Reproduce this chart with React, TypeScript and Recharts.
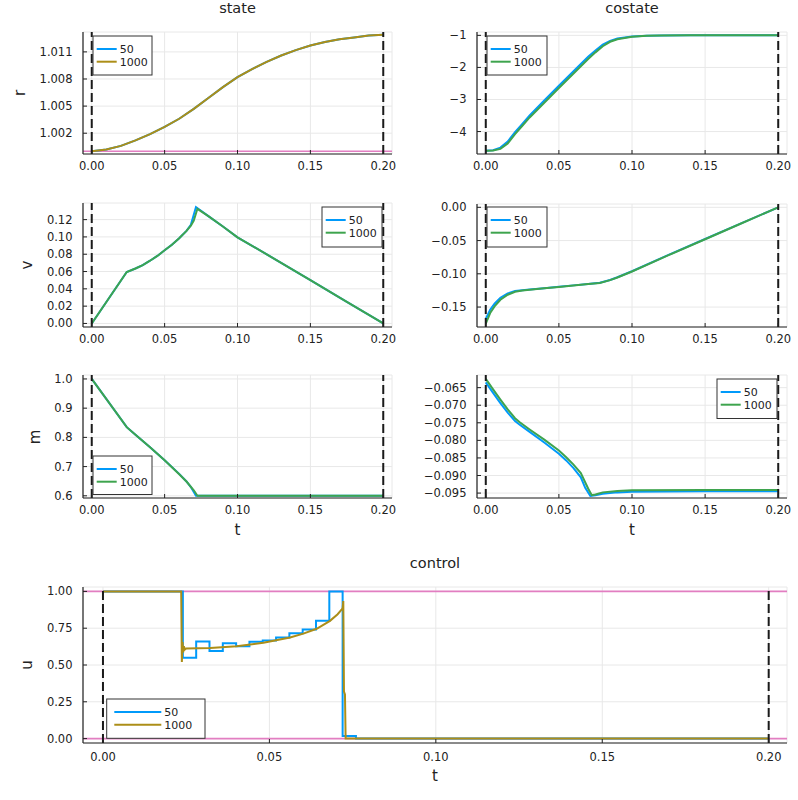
import React from "react";
import { CartesianGrid, Line, LineChart, ReferenceLine, XAxis, YAxis } from "recharts";

const BLUE = "#009AFA";
const GOLD = "#AC8E18";
const GREEN = "#3EA44E";
const PINK = "#E27EC1";
const FONT = "'DejaVu Sans', sans-serif";
const INK = "#222";

const timeTicks = [0, 0.05, 0.1, 0.15, 0.2];
const boundaryTimes = [0, 0.2];

// state r
const rTimes = [0, 0.01, 0.02, 0.03, 0.04, 0.05, 0.06, 0.07, 0.08, 0.09, 0.1, 0.11, 0.12, 0.13, 0.14, 0.15, 0.16, 0.17, 0.18, 0.19, 0.2];
const r50 = [1.0, 1.0002, 1.0006, 1.0012, 1.0019, 1.0027, 1.0036, 1.0047, 1.0059, 1.0071, 1.0082, 1.0091, 1.0099, 1.0106, 1.0112, 1.0117, 1.0121, 1.0124, 1.0126, 1.0128, 1.0129];
const r1000 = [1.0, 1.0002, 1.0006, 1.0012, 1.0019, 1.0027, 1.0036, 1.0047, 1.0059, 1.0071, 1.0082, 1.0091, 1.0099, 1.0106, 1.0112, 1.0117, 1.0121, 1.0124, 1.0126, 1.0128, 1.0129];
const rTicks = [1.002, 1.005, 1.008, 1.011];

// costate of r
const prTimes = [0, 0.005, 0.01, 0.015, 0.02, 0.025, 0.03, 0.04, 0.05, 0.06, 0.07, 0.075, 0.08, 0.085, 0.09, 0.1, 0.11, 0.12, 0.14, 0.2];
const pr50 = [-4.6, -4.58, -4.5, -4.31, -4.02, -3.76, -3.5, -3.03, -2.57, -2.12, -1.67, -1.47, -1.29, -1.17, -1.1, -1.035, -1.012, -1.004, -1.0, -1.0];
const pr1000 = [-4.6, -4.59, -4.54, -4.37, -4.08, -3.82, -3.56, -3.1, -2.64, -2.19, -1.74, -1.53, -1.34, -1.2, -1.12, -1.045, -1.015, -1.005, -1.0, -1.0];
const prTicks = [-4, -3, -2, -1];

// state v
const vTimes50 = [0, 0.024, 0.03, 0.035, 0.04, 0.045, 0.05, 0.055, 0.06, 0.065, 0.068, 0.0715, 0.08, 0.09, 0.1, 0.125, 0.15, 0.175, 0.2];
const v50 = [0, 0.0595, 0.0635, 0.0675, 0.0725, 0.078, 0.0845, 0.091, 0.0985, 0.107, 0.114, 0.1345, 0.124, 0.112, 0.0995, 0.075, 0.05, 0.025, 0];
const vTimes1000 = [0, 0.024, 0.03, 0.035, 0.04, 0.045, 0.05, 0.055, 0.06, 0.065, 0.068, 0.07, 0.0725, 0.08, 0.09, 0.1, 0.125, 0.15, 0.175, 0.2];
const v1000 = [0, 0.0595, 0.0635, 0.0675, 0.0725, 0.078, 0.0845, 0.091, 0.0985, 0.107, 0.113, 0.119, 0.1325, 0.124, 0.112, 0.0995, 0.075, 0.05, 0.025, 0];
const vTicks = [0, 0.02, 0.04, 0.06, 0.08, 0.1, 0.12];

// costate of v
const pvTimes = [0, 0.003, 0.006, 0.01, 0.015, 0.02, 0.025, 0.03, 0.04, 0.05, 0.06, 0.07, 0.078, 0.085, 0.09, 0.1, 0.125, 0.15, 0.175, 0.2];
const pv50 = [-0.168, -0.154, -0.145, -0.136, -0.1295, -0.126, -0.1247, -0.1237, -0.1216, -0.1195, -0.1174, -0.1153, -0.1134, -0.1093, -0.1052, -0.0962, -0.0716, -0.0477, -0.0238, 0];
const pv1000 = [-0.175, -0.159, -0.149, -0.139, -0.1315, -0.127, -0.1252, -0.124, -0.1218, -0.1197, -0.1176, -0.1155, -0.1137, -0.1095, -0.1055, -0.0965, -0.072, -0.048, -0.024, 0];
const pvTicks = [-0.15, -0.1, -0.05, 0];

// state m
const mTimes50 = [0, 0.024, 0.03, 0.04, 0.05, 0.06, 0.065, 0.068, 0.0715, 0.1, 0.2];
const m50 = [1.0, 0.835, 0.809, 0.766, 0.722, 0.675, 0.649, 0.63, 0.6, 0.6, 0.6];
const mTimes1000 = [0, 0.024, 0.03, 0.04, 0.05, 0.06, 0.065, 0.07, 0.0725, 0.1, 0.15, 0.2];
const m1000 = [1.0, 0.835, 0.809, 0.766, 0.722, 0.674, 0.649, 0.619, 0.6, 0.6, 0.6, 0.6];
const mTicks = [0.6, 0.7, 0.8, 0.9, 1.0];

// costate of m
const pmTimes50 = [0, 0.005, 0.01, 0.015, 0.02, 0.023, 0.03, 0.04, 0.05, 0.055, 0.06, 0.065, 0.068, 0.0715, 0.075, 0.08, 0.09, 0.1, 0.15, 0.2];
const pm50 = [-0.0635, -0.0665, -0.0694, -0.0721, -0.0745, -0.0755, -0.0776, -0.0806, -0.0838, -0.0857, -0.0879, -0.0905, -0.0935, -0.0958, -0.0956, -0.0952, -0.0948, -0.0946, -0.0945, -0.0945];
const pmTimes1000 = [0, 0.005, 0.01, 0.015, 0.02, 0.023, 0.03, 0.04, 0.05, 0.055, 0.06, 0.065, 0.07, 0.0725, 0.075, 0.08, 0.09, 0.1, 0.15, 0.2];
const pm1000 = [-0.0625, -0.0655, -0.0684, -0.0712, -0.0737, -0.0748, -0.0769, -0.0798, -0.0829, -0.0848, -0.0869, -0.0893, -0.0937, -0.0956, -0.0954, -0.0948, -0.0944, -0.0942, -0.0941, -0.0941];
const pmTicks = [-0.095, -0.09, -0.085, -0.08, -0.075, -0.07, -0.065];

// control u
const uTimes50 = [0, 0.024, 0.028, 0.032, 0.036, 0.04, 0.044, 0.048, 0.052, 0.056, 0.06, 0.064, 0.068, 0.072, 0.076, 0.2];
const u50 = [1.0, 0.55, 0.66, 0.595, 0.647, 0.627, 0.658, 0.667, 0.687, 0.715, 0.742, 0.8, 1.0, 0.018, 0, 0];
const uTimes1000 = [0, 0.0235, 0.0237, 0.0239, 0.0241, 0.0243, 0.0246, 0.025, 0.0322, 0.0402, 0.0482, 0.0562, 0.0602, 0.0642, 0.0682, 0.0705, 0.072, 0.0722, 0.0724, 0.0727, 0.0729, 0.2];
const u1000 = [1.0, 1.0, 0.52, 0.655, 0.585, 0.628, 0.605, 0.612, 0.615, 0.628, 0.651, 0.687, 0.713, 0.746, 0.8, 0.845, 0.885, 0.935, 0.32, 0.3, 0, 0];
const uTicks = [0, 0.25, 0.5, 0.75, 1.0];

type Pt = { t: number; y: number };
type Series = { points: Pt[]; color: string; step?: boolean };
type Box = { x: number; y: number; w: number; h: number };

const zip = (ts: number[], ys: number[]): Pt[] => ts.map((t, i) => ({ t, y: ys[i] }));

const minusFixed = (digits: number) => (v: number) => {
  const s = Math.abs(v).toFixed(digits);
  return v < -1e-9 ? "\u2212" + s : s;
};

const AX = 75;
const TOP = 5;

function Panel({
  box,
  xDomain,
  yDomain,
  yTicks,
  yFormat,
  series,
  hlines = [],
  xLabelDy = 15.5,
}: {
  box: Box;
  xDomain: [number, number];
  yDomain: [number, number];
  yTicks: number[];
  yFormat: (v: number) => string;
  series: Series[];
  hlines?: number[];
  xLabelDy?: number;
}) {
  const axisY = TOP + box.h;

  const xTick = (p: any) => (
    <g>
      <line x1={p.x} x2={p.x} y1={axisY} y2={axisY - 4} stroke={INK} strokeWidth={1} />
      <text x={p.x} y={axisY + xLabelDy} textAnchor="middle" fontSize={11.5} fontFamily={FONT} fill={INK}>
        {Number(p.payload.value).toFixed(2)}
      </text>
    </g>
  );

  const yTick = (p: any) => (
    <g>
      <line x1={AX} x2={AX + 4} y1={p.y} y2={p.y} stroke={INK} strokeWidth={1} />
      <text x={AX - 10.5} y={p.y + 4} textAnchor="end" fontSize={11.5} fontFamily={FONT} fill={INK}>
        {yFormat(Number(p.payload.value))}
      </text>
    </g>
  );

  return (
    <div style={{ position: "absolute", left: box.x - AX, top: box.y - TOP }}>
      <LineChart width={AX + box.w + 5} height={TOP + box.h + 30} margin={{ top: TOP, right: 5, bottom: 0, left: 0 }}>
        <CartesianGrid stroke="#e8e8e8" strokeWidth={1} />
        <XAxis
          dataKey="t"
          type="number"
          domain={xDomain}
          ticks={timeTicks}
          interval={0}
          allowDataOverflow
          height={30}
          tick={xTick}
          tickLine={false}
          axisLine={{ stroke: INK, strokeWidth: 1.2 }}
        />
        <YAxis
          type="number"
          domain={yDomain}
          ticks={yTicks}
          interval={0}
          allowDataOverflow
          width={AX}
          tick={yTick}
          tickLine={false}
          axisLine={{ stroke: INK, strokeWidth: 1.2 }}
        />
        {hlines.map((h) => (
          <ReferenceLine key={"h" + h} y={h} stroke={PINK} strokeWidth={1.6} />
        ))}
        {series.map((s, i) => (
          <Line
            key={i}
            data={s.points}
            dataKey="y"
            type={s.step ? "stepAfter" : "linear"}
            stroke={s.color}
            strokeWidth={2}
            dot={false}
            isAnimationActive={false}
          />
        ))}
        {boundaryTimes.map((v) => (
          <ReferenceLine key={"v" + v} x={v} stroke="#1a1a1a" strokeWidth={2} strokeDasharray="9 4" />
        ))}
      </LineChart>
    </div>
  );
}

function LegendBox({
  x,
  y,
  w,
  h,
  items,
  lineLen = 20,
}: {
  x: number;
  y: number;
  w: number;
  h: number;
  items: { label: string; color: string }[];
  lineLen?: number;
}) {
  const lx = lineLen > 30 ? 7.6 : 3.7;
  return (
    <g>
      <rect x={x} y={y} width={w} height={h} fill="#fff" stroke="#333" strokeWidth={1} />
      {items.map((it, i) => {
        const ry = y + 13 + i * 12.7;
        return (
          <g key={it.label}>
            <line x1={x + lx} x2={x + lx + lineLen} y1={ry} y2={ry} stroke={it.color} strokeWidth={2} />
            <text x={x + lx + lineLen + 3} y={ry + 4} fontSize={11} fontFamily={FONT} fill={INK}>
              {it.label}
            </text>
          </g>
        );
      })}
    </g>
  );
}

const topDomain: [number, number] = [-0.006, 0.206];

export default function App() {
  const leg50Gold = [
    { label: "50", color: BLUE },
    { label: "1000", color: GOLD },
  ];
  const leg50Green = [
    { label: "50", color: BLUE },
    { label: "1000", color: GREEN },
  ];

  return (
    <div style={{ position: "absolute", left: 0, top: 0, width: 798, height: 800, background: "#fff", overflow: "hidden" }}>
      <Panel
        box={{ x: 83, y: 32, w: 309, h: 122 }}
        xDomain={topDomain}
        yDomain={[0.9997, 1.0132]}
        yTicks={rTicks}
        yFormat={(v) => v.toFixed(3)}
        hlines={[1.0]}
        series={[
          { points: zip(rTimes, r50), color: BLUE },
          { points: zip(rTimes, r1000), color: GOLD },
        ]}
      />
      <Panel
        box={{ x: 477, y: 32, w: 310, h: 122 }}
        xDomain={topDomain}
        yDomain={[-4.7, -0.895]}
        yTicks={prTicks}
        yFormat={minusFixed(0)}
        series={[
          { points: zip(prTimes, pr50), color: BLUE },
          { points: zip(prTimes, pr1000), color: GREEN },
        ]}
      />
      <Panel
        box={{ x: 83, y: 203, w: 309, h: 124 }}
        xDomain={topDomain}
        yDomain={[-0.0041, 0.1392]}
        yTicks={vTicks}
        yFormat={(v) => v.toFixed(2)}
        series={[
          { points: zip(vTimes50, v50), color: BLUE },
          { points: zip(vTimes1000, v1000), color: GREEN },
        ]}
      />
      <Panel
        box={{ x: 477, y: 204, w: 310, h: 123 }}
        xDomain={topDomain}
        yDomain={[-0.18, 0.005]}
        yTicks={pvTicks}
        yFormat={minusFixed(2)}
        series={[
          { points: zip(pvTimes, pv50), color: BLUE },
          { points: zip(pvTimes, pv1000), color: GREEN },
        ]}
      />
      <Panel
        box={{ x: 83, y: 375, w: 309, h: 123 }}
        xDomain={topDomain}
        yDomain={[0.5925, 1.0135]}
        yTicks={mTicks}
        yFormat={(v) => v.toFixed(1)}
        series={[
          { points: zip(mTimes50, m50), color: BLUE },
          { points: zip(mTimes1000, m1000), color: GREEN },
        ]}
      />
      <Panel
        box={{ x: 477, y: 375, w: 310, h: 123 }}
        xDomain={topDomain}
        yDomain={[-0.0964, -0.0614]}
        yTicks={pmTicks}
        yFormat={minusFixed(3)}
        series={[
          { points: zip(pmTimes50, pm50), color: BLUE },
          { points: zip(pmTimes1000, pm1000), color: GREEN },
        ]}
      />
      <Panel
        box={{ x: 83, y: 587, w: 704, h: 156 }}
        xDomain={[-0.006, 0.2055]}
        yDomain={[-0.03, 1.03]}
        yTicks={uTicks}
        yFormat={(v) => v.toFixed(2)}
        hlines={[1.0, 0.0]}
        xLabelDy={17.5}
        series={[
          { points: zip(uTimes50, u50), color: BLUE, step: true },
          { points: zip(uTimes1000, u1000), color: GOLD },
        ]}
      />

      <svg width={798} height={800} style={{ position: "absolute", left: 0, top: 0, pointerEvents: "none" }}>
        <g fontFamily={FONT} fill={INK}>
          <text x={237.5} y={13} fontSize={14.5} textAnchor="middle">state</text>
          <text x={632} y={13} fontSize={14.5} textAnchor="middle">costate</text>
          <text x={435} y={568} fontSize={14.5} textAnchor="middle">control</text>

          <text x={237.5} y={535} fontSize={15} textAnchor="middle">t</text>
          <text x={632} y={535} fontSize={15} textAnchor="middle">t</text>
          <text x={435} y={781} fontSize={15} textAnchor="middle">t</text>

          <text transform="translate(20,93) rotate(-90)" fontSize={15} textAnchor="middle" dominantBaseline="central">r</text>
          <text transform="translate(27,265) rotate(-90)" fontSize={15} textAnchor="middle" dominantBaseline="central">v</text>
          <text transform="translate(35,437) rotate(-90)" fontSize={15} textAnchor="middle" dominantBaseline="central">m</text>
          <text transform="translate(27,665) rotate(-90)" fontSize={15} textAnchor="middle" dominantBaseline="central">u</text>
        </g>

        <LegendBox x={93} y={36} w={59} h={39} items={leg50Gold} />
        <LegendBox x={487} y={36} w={60} h={39} items={leg50Green} />
        <LegendBox x={322} y={207} w={60} h={40} items={leg50Green} />
        <LegendBox x={487} y={207} w={60} h={40} items={leg50Green} />
        <LegendBox x={93} y={456} w={59} h={38.5} items={leg50Green} />
        <LegendBox x={717} y={379} w={60} h={39.5} items={leg50Green} />
        <LegendBox x={106.7} y={699} w={98.3} h={39.3} items={leg50Gold} lineLen={47} />
      </svg>
    </div>
  );
}
